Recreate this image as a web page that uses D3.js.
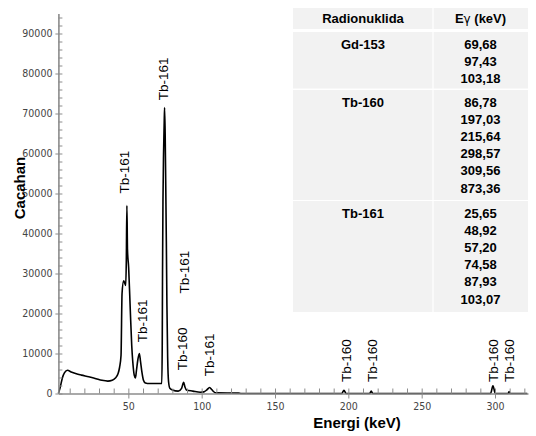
<!DOCTYPE html>
<html>
<head>
<meta charset="utf-8">
<script src="https://cdnjs.cloudflare.com/ajax/libs/d3/7.8.5/d3.min.js"></script>
<style>
  body { margin: 0; background: #fff; }
  .tick-label { font-family: "Liberation Sans Narrow", "DejaVu Sans Condensed", sans-serif; font-size: 10.5px; fill: #444; }
  .axis-title { font-family: "Liberation Sans", Arial, sans-serif; font-size: 15px; font-weight: bold; fill: #000; }
  .peak-label { font-family: "Liberation Sans", Arial, sans-serif; font-size: 13.5px; fill: #000; }
  .tbl { font-family: "Liberation Sans", Arial, sans-serif; font-size: 13px; font-weight: bold; fill: #000; }
</style>
</head>
<body>
<svg width="536" height="436"></svg>
<script>
// spectrum (keV, counts)
var spectrumKeV = [2.3, 3.5, 5.0, 6.5, 8.5, 11, 14, 18, 23, 28, 32, 36, 39, 41, 43, 44, 45, 45.7, 46.8, 47.6, 48.2, 48.6, 49.0, 49.4, 50.2, 51.3, 52.3, 53.0, 54.0, 54.8, 55.6, 56.5, 57.5, 58.3, 59.3, 60.3, 61.6, 63, 72.8, 73.1, 73.3, 73.6, 74.0, 74.4, 74.7, 75.1, 75.5, 75.9, 76.3, 76.8, 77.4, 78.3, 80, 84, 86.3, 87.7, 88.6, 89.6, 94, 99, 101.5, 103.5, 105.4, 106.8, 108, 110, 125, 127, 195.5, 197, 198.5, 214.5, 215.6, 216.7, 297, 298.6, 300.2, 309, 309.6, 310.2, 322];
var spectrumCounts = [0, 1500, 3900, 5200, 5800, 5400, 5000, 4600, 4200, 3700, 3300, 3100, 3300, 3800, 5000, 6500, 9500, 25000, 28200, 27500, 27000, 33000, 47000, 36000, 31500, 21000, 12000, 8000, 4600, 3900, 6000, 8500, 10000, 8000, 5200, 3300, 2600, 2500, 2500, 12000, 30000, 48000, 60000, 67000, 71500, 65000, 52000, 38000, 22000, 9000, 3000, 1300, 900, 600, 1300, 2800, 1600, 900, 600, 300, 400, 900, 1500, 1000, 500, 150, 100, 0, 0, 800, 0, 0, 600, 0, 0, 1900, 0, 0, 500, 0, 0];

// peak annotations: name, energy (keV), count level where the text starts
var peakNames  = ["Tb-161", "Tb-161", "Tb-161", "Tb-160", "Tb-161", "Tb-161", "Tb-160", "Tb-160", "Tb-160", "Tb-160"];
var peakKeV    = [47.0, 73.8, 59.1, 86.4, 88.2, 105.0, 198.2, 215.9, 298.8, 309.7];
var peakLevel  = [50000, 73300, 12800, 5800, 25000, 4300, 2900, 2900, 2900, 2900];

// table
var tableHeader = ["Radionuklida", "E"];
var nuclides = ["Gd-153", "Tb-160", "Tb-161"];
var energies = [
  ["69,68", "97,43", "103,18"],
  ["86,78", "197,03", "215,64", "298,57", "309,56", "873,36"],
  ["25,65", "48,92", "57,20", "74,58", "87,93", "103,07"]
];

var xTicksMajor = [50, 100, 150, 200, 250, 300];
var yTicksMajor = [0, 10000, 20000, 30000, 40000, 50000, 60000, 70000, 80000, 90000];

var svg = d3.select("svg");

var x = d3.scaleLinear().domain([2.3, 322.5]).range([58.4, 528]);
var y = d3.scaleLinear().domain([0, 95000]).range([393.5, 13.5]);

// spectrum
var pts = spectrumKeV.map((e, i) => [e, spectrumCounts[i]]);
var line = d3.line()
  .x(d => x(d[0]))
  .y(d => y(d[1]))
  .curve(d3.curveMonotoneX);

svg.append("path")
  .datum(pts)
  .attr("d", line)
  .attr("fill", "none")
  .attr("stroke", "#000")
  .attr("stroke-width", 1.6)
  .attr("stroke-linejoin", "round");

// axes: minor ticks inside, major ticks crossing
function styleAxis(g) {
  g.select(".domain").attr("stroke", "#8c8c8c").attr("stroke-width", 1.6);
  g.selectAll(".tick line").attr("stroke", "#8c8c8c");
}

var xg = svg.append("g").attr("transform", "translate(0," + y(0) + ")");
xg.append("g")
  .call(d3.axisBottom(x).tickValues(d3.range(10, 321, 10)).tickSize(-5).tickFormat("").tickSizeOuter(0))
  .call(styleAxis);
xg.append("g")
  .call(d3.axisBottom(x).tickValues(xTicksMajor).tickSize(5).tickPadding(4).tickSizeOuter(0).tickFormat(d3.format("d")))
  .call(styleAxis)
  .call(g => g.select(".domain").remove())
  .selectAll("text").attr("class", "tick-label").attr("fill", null);

var yg = svg.append("g").attr("transform", "translate(" + x(2.3) + ",0)");
yg.append("g")
  .call(d3.axisRight(y).tickValues(d3.range(0, 95001, 2000)).tickSize(4).tickFormat("").tickSizeOuter(0))
  .call(styleAxis);
yg.append("g")
  .call(d3.axisLeft(y).tickValues(yTicksMajor).tickSize(3).tickPadding(3).tickSizeOuter(0).tickFormat(d3.format("d")))
  .call(styleAxis)
  .call(g => g.select(".domain").remove())
  .selectAll("text").attr("class", "tick-label").attr("fill", null);

// axis titles
svg.append("text")
  .attr("class", "axis-title")
  .attr("x", 357).attr("y", 428)
  .attr("text-anchor", "middle")
  .text("Energi (keV)");

svg.append("text")
  .attr("class", "axis-title")
  .attr("transform", "translate(25,188) rotate(-90)")
  .attr("text-anchor", "middle")
  .text("Cacahan");

// peak labels
svg.selectAll(".peak-label")
  .data(peakNames)
  .enter().append("text")
    .attr("class", "peak-label")
    .attr("transform", (d, i) => "translate(" + x(peakKeV[i]) + "," + y(peakLevel[i]) + ") rotate(-90)")
    .attr("dy", "0.36em")
    .text(d => d);

// table
var tx0 = 293, tx1 = 433, tx2 = 528;
var rowTops = [32, 90, 201], rowBottoms = [88.5, 200, 312];
var lineH = 17.1;

svg.append("rect")
  .attr("x", tx0).attr("y", 8).attr("width", tx2 - tx0).attr("height", 21)
  .attr("fill", "#f2f2f2");
rowTops.forEach((t, i) => {
  svg.append("rect")
    .attr("x", tx0).attr("y", t).attr("width", tx2 - tx0).attr("height", rowBottoms[i] - t)
    .attr("fill", "#f2f2f2");
});
svg.append("line")
  .attr("x1", tx1).attr("x2", tx1).attr("y1", 8).attr("y2", 312)
  .attr("stroke", "#fff").attr("stroke-width", 1.2);

var c1 = (tx0 + tx1) / 2, c2 = (tx1 + tx2) / 2;
svg.append("text").attr("class", "tbl")
  .attr("x", c1).attr("y", 23).attr("text-anchor", "middle")
  .text(tableHeader[0]);
var eh = svg.append("text").attr("class", "tbl")
  .attr("x", c2).attr("y", 23).attr("text-anchor", "middle");
eh.append("tspan").text(tableHeader[1]);
eh.append("tspan").attr("font-weight", "normal").attr("font-family", "DejaVu Sans, sans-serif").attr("font-size", 12).text("γ");
eh.append("tspan").text(" (keV)");

nuclides.forEach((n, i) => {
  svg.append("text").attr("class", "tbl")
    .attr("x", c1).attr("y", rowTops[i] + 17).attr("text-anchor", "middle")
    .text(n);
  energies[i].forEach((v, j) => {
    svg.append("text").attr("class", "tbl")
      .attr("x", c2).attr("y", rowTops[i] + 17 + j * lineH).attr("text-anchor", "middle")
      .text(v);
  });
});
</script>
</body>
</html>
